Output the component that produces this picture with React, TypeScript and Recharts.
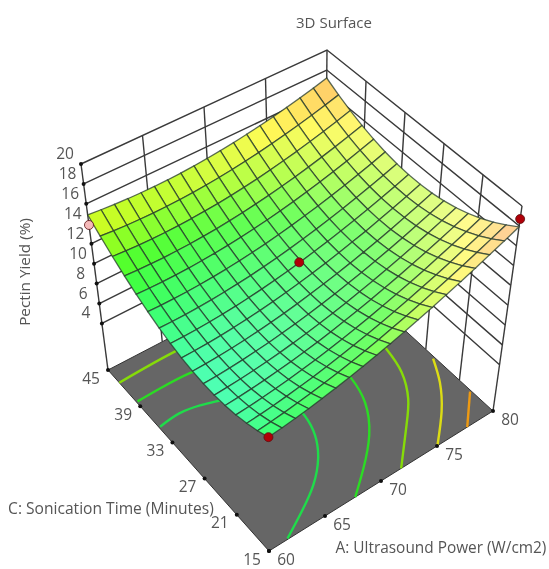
import { ScatterChart, Scatter, XAxis, YAxis } from "recharts";

const WIDTH = 549;
const HEIGHT = 569;

const aTicks = [60, 65, 70, 75, 80];
const cTicks = [15, 21, 27, 33, 39, 45];
const zTicks = [4, 6, 8, 10, 12, 14, 16, 18, 20];

const gridA = [60, 61.11, 62.22, 63.33, 64.44, 65.56, 66.67, 67.78, 68.89, 70, 71.11, 72.22, 73.33, 74.44, 75.56, 76.67, 77.78, 78.89, 80];
const gridC = [15, 16.875, 18.75, 20.625, 22.5, 24.375, 26.25, 28.125, 30, 31.875, 33.75, 35.625, 37.5, 39.375, 41.25, 43.125, 45];

// pectin yield, one row per gridA value, one column per gridC value
const surfaceZ = [
  [10.7, 10.21, 9.83, 9.54, 9.35, 9.26, 9.28, 9.39, 9.6, 9.91, 10.33, 10.84, 11.45, 12.16, 12.98, 13.89, 14.9],
  [10.85, 10.34, 9.94, 9.63, 9.43, 9.33, 9.32, 9.42, 9.61, 9.91, 10.3, 10.8, 11.39, 12.09, 12.89, 13.78, 14.78],
  [11.03, 10.5, 10.08, 9.76, 9.54, 9.42, 9.4, 9.48, 9.65, 9.93, 10.31, 10.79, 11.37, 12.05, 12.83, 13.7, 14.68],
  [11.23, 10.7, 10.26, 9.92, 9.68, 9.54, 9.5, 9.56, 9.73, 9.99, 10.35, 10.81, 11.37, 12.03, 12.79, 13.66, 14.62],
  [11.47, 10.92, 10.46, 10.1, 9.85, 9.69, 9.64, 9.68, 9.83, 10.07, 10.42, 10.86, 11.4, 12.05, 12.79, 13.64, 14.58],
  [11.74, 11.16, 10.69, 10.32, 10.05, 9.87, 9.8, 9.83, 9.96, 10.18, 10.51, 10.94, 11.47, 12.09, 12.82, 13.65, 14.58],
  [12.03, 11.44, 10.95, 10.56, 10.28, 10.09, 10.0, 10.01, 10.12, 10.33, 10.64, 11.05, 11.56, 12.17, 12.88, 13.69, 14.6],
  [12.36, 11.75, 11.25, 10.84, 10.53, 10.33, 10.22, 10.21, 10.31, 10.5, 10.79, 11.19, 11.68, 12.27, 12.97, 13.76, 14.65],
  [12.72, 12.09, 11.57, 11.14, 10.82, 10.6, 10.47, 10.45, 10.53, 10.7, 10.98, 11.36, 11.83, 12.41, 13.08, 13.86, 14.74],
  [13.1, 12.46, 11.92, 11.48, 11.14, 10.9, 10.76, 10.72, 10.78, 10.93, 11.19, 11.55, 12.01, 12.57, 13.23, 13.99, 14.85],
  [13.52, 12.86, 12.3, 11.84, 11.48, 11.23, 11.07, 11.01, 11.05, 11.2, 11.44, 11.78, 12.22, 12.77, 13.41, 14.15, 14.99],
  [13.96, 13.29, 12.71, 12.24, 11.86, 11.59, 11.41, 11.34, 11.36, 11.49, 11.71, 12.04, 12.46, 12.99, 13.61, 14.34, 15.17],
  [14.43, 13.74, 13.15, 12.66, 12.27, 11.98, 11.78, 11.69, 11.7, 11.81, 12.02, 12.33, 12.73, 13.24, 13.85, 14.56, 15.37],
  [14.94, 14.23, 13.62, 13.11, 12.7, 12.39, 12.19, 12.08, 12.07, 12.16, 12.35, 12.64, 13.03, 13.52, 14.12, 14.81, 15.6],
  [15.47, 14.75, 14.12, 13.59, 13.17, 12.84, 12.62, 12.49, 12.46, 12.54, 12.71, 12.99, 13.36, 13.84, 14.41, 15.09, 15.86],
  [16.03, 15.29, 14.65, 14.11, 13.66, 13.32, 13.08, 12.93, 12.89, 12.95, 13.11, 13.36, 13.72, 14.18, 14.74, 15.39, 16.15],
  [16.63, 15.87, 15.21, 14.65, 14.19, 13.83, 13.57, 13.41, 13.35, 13.39, 13.53, 13.77, 14.11, 14.55, 15.09, 15.73, 16.47],
  [17.25, 16.47, 15.79, 15.22, 14.74, 14.36, 14.09, 13.91, 13.83, 13.86, 13.98, 14.2, 14.53, 14.95, 15.47, 16.1, 16.82],
  [17.9, 17.11, 16.41, 15.82, 15.33, 14.93, 14.64, 14.44, 14.35, 14.36, 14.46, 14.67, 14.98, 15.38, 15.89, 16.49, 17.2],
];

// floor contours as [A, C] pairs
const contourLines = [
  [[61.7, 15.1], [63.9, 17.05], [66, 19.2], [67.7, 21.8], [68.8, 24.6], [69.3, 27.5], [69.3, 30]],
  [[60.1, 35.5], [62, 35.8], [63.7, 35.4], [65, 34.8], [67, 33.8]],
  [[67.7, 15], [69.7, 17.6], [71.9, 21], [73.5, 25], [74.1, 28.6], [74.2, 31]],
  [[60.1, 39.7], [62.2, 39.8], [65, 39.7], [67, 39]],
  [[71.8, 15], [74.5, 19.5], [76.1, 22.4], [77.3, 26], [77.8, 29.5], [78, 32]],
  [[60, 42.9], [62.6, 43.05], [65.2, 43.1], [67, 43]],
  [[75.1, 15.1], [77.2, 18.6], [78.8, 22.1], [79.85, 25.4]],
  [[77.7, 15], [79.9, 18.9]],
];
const contourColors = ["#1fdc4a", "#1fdc4a", "#2bdc24", "#2bdc24", "#86dc08", "#86dc08", "#dcdc14", "#ee9a12"];

const designA = [60, 70, 80, 60];
const designC = [45, 30, 15, 15];
const designZ = [13.88, 12.85, 18.69, 10.7];
const designColors = ["#f5b9b9", "#b00008", "#b00008", "#b00008"];

const zFloor = -0.67;
type Pt = [number, number];
const floorCorners: Pt[] = [[269, 551], [493, 411], [325, 257], [108, 370]];
const topCorners: Pt[] = [[268, 344], [522, 206], [327, 50], [81, 164]];

function bilinear(c: Pt[], u: number, v: number): Pt {
  const x = c[0][0] * (1 - u) * (1 - v) + c[1][0] * u * (1 - v) + c[2][0] * u * v + c[3][0] * (1 - u) * v;
  const y = c[0][1] * (1 - u) * (1 - v) + c[1][1] * u * (1 - v) + c[2][1] * u * v + c[3][1] * (1 - u) * v;
  return [x, y];
}

function project(a: number, c: number, z: number) {
  const u = (a - 60) / 20;
  const v = (c - 15) / 30;
  const t = (z - zFloor) / (20 - zFloor);
  const b = bilinear(floorCorners, u, v);
  const d = bilinear(topCorners, u, v);
  return { x: b[0] + (d[0] - b[0]) * t, y: b[1] + (d[1] - b[1]) * t };
}

const colorStops: [number, number[]][] = [
  [9.3, [60, 255, 170]],
  [10.8, [40, 255, 90]],
  [12.3, [50, 255, 28]],
  [13.7, [156, 255, 9]],
  [15.2, [255, 250, 23]],
  [16.6, [255, 190, 30]],
  [17.9, [255, 130, 40]],
];

function surfaceColor(z: number, u: number, v: number) {
  let rgb = colorStops[colorStops.length - 1][1];
  for (let i = 0; i < colorStops.length - 1; i++) {
    const [z0, c0] = colorStops[i];
    const [z1, c1] = colorStops[i + 1];
    if (z <= z1) {
      const t = Math.max(0, (z - z0) / (z1 - z0));
      rgb = c0.map((n, k) => n + (c1[k] - n) * t);
      break;
    }
  }
  // the reference's light washes the right hand side out
  const w = 0.08 + 0.45 * u * (1 - 0.45 * v * v);
  const out = rgb.map((n) => Math.round(n + (255 - n) * w));
  return `rgb(${out[0]},${out[1]},${out[2]})`;
}

// one point per surface cell, back corner first so that nearer cells paint over
const cells: any[] = [];
for (let i = gridA.length - 2; i >= 0; i--) {
  for (let j = gridC.length - 2; j >= 0; j--) {
    const verts = [
      project(gridA[i], gridC[j], surfaceZ[i][j]),
      project(gridA[i + 1], gridC[j], surfaceZ[i + 1][j]),
      project(gridA[i + 1], gridC[j + 1], surfaceZ[i + 1][j + 1]),
      project(gridA[i], gridC[j + 1], surfaceZ[i][j + 1]),
    ];
    const mean = (surfaceZ[i][j] + surfaceZ[i + 1][j] + surfaceZ[i + 1][j + 1] + surfaceZ[i][j + 1]) / 4;
    cells.push({
      ...verts[0],
      verts,
      fill: surfaceColor(mean, (i + 0.5) / (gridA.length - 1), (j + 0.5) / (gridC.length - 1)),
    });
  }
}

const floorPoint = {
  ...project(60, 15, zFloor),
  verts: [project(60, 15, zFloor), project(80, 15, zFloor), project(80, 45, zFloor), project(60, 45, zFloor)],
  fill: "#666666",
};

// polygon whose corners are given in chart units, placed through the scatter's own cx/cy
const Polygon = (props: any) => {
  const { cx, cy, payload } = props;
  const pts = payload.verts.map((v: any) => `${cx + v.x - payload.x},${cy + v.y - payload.y}`).join(" ");
  const isFloor = payload.fill === "#666666";
  return (
    <polygon
      points={pts}
      fill={payload.fill}
      stroke={isFloor ? "#333333" : "#263a2c"}
      strokeWidth={isFloor ? 1 : 1.3}
      strokeOpacity={isFloor ? 1 : 0.75}
    />
  );
};

const NoDot = () => <g />;

const TickDot = (props: any) => <circle cx={props.cx} cy={props.cy} r={2} fill="#111111" />;

const TickText = (props: any) => (
  <text
    x={props.cx + props.payload.dx}
    y={props.cy + props.payload.dy}
    textAnchor="middle"
    dominantBaseline="central"
    fontFamily="'Open Sans', sans-serif"
    fontSize={15.5}
    fill="#555555"
  >
    {props.payload.label}
  </text>
);

const DesignDot = (props: any) => (
  <circle cx={props.cx} cy={props.cy} r={4.5} fill={props.payload.fill} stroke="#5a1010" strokeWidth={0.8} />
);

const wallLines: any[][] = [];
zTicks.forEach((z) => {
  wallLines.push([project(60, 45, z), project(80, 45, z), project(80, 15, z)]);
});
aTicks.slice(1, -1).forEach((a) => wallLines.push([project(a, 45, zFloor), project(a, 45, 20)]));
cTicks.slice(1, -1).forEach((c) => wallLines.push([project(80, c, zFloor), project(80, c, 20)]));
wallLines.push([project(60, 45, zFloor), project(60, 45, 20)]);
wallLines.push([project(80, 45, zFloor), project(80, 45, 20)]);
wallLines.push([project(80, 15, zFloor), project(80, 15, 20)]);

const tickDots = [
  ...zTicks.map((z) => project(60, 45, z)),
  ...cTicks.map((c) => project(60, c, zFloor)),
  ...aTicks.map((a) => project(a, 15, zFloor)),
];

const tickLabels = [
  ...zTicks.map((z) => ({ ...project(60, 45, z), label: String(z), dx: -16, dy: -11 })),
  ...cTicks.map((c) => ({ ...project(60, c, zFloor), label: String(c), dx: -17, dy: 7.5 })),
  ...aTicks.map((a) => ({ ...project(a, 15, zFloor), label: String(a), dx: 17, dy: 7.5 })),
];

const designPoints = designA.map((a, i) => ({
  ...project(a, designC[i], designZ[i]),
  fill: designColors[i],
}));

const labelStyle = { fontFamily: "'Open Sans', sans-serif", fill: "#555555" };

export default function App() {
  return (
    <div style={{ position: "absolute", left: 0, top: 0, width: WIDTH, height: HEIGHT, overflow: "hidden", filter: "blur(0.6px)" }}>
      <ScatterChart width={WIDTH} height={HEIGHT} margin={{ top: 0, right: 0, bottom: 0, left: 0 }}>
        <XAxis type="number" dataKey="x" domain={[0, WIDTH]} hide />
        <YAxis type="number" dataKey="y" domain={[0, HEIGHT]} reversed hide />

        {wallLines.map((pts, i) => (
          <Scatter key={`wall-${i}`} data={pts} line={{ stroke: "#3a3a3a", strokeWidth: 1.4 }} shape={NoDot} isAnimationActive={false} />
        ))}
        <Scatter data={[floorPoint]} shape={Polygon} isAnimationActive={false} />
        {contourLines.map((line, i) => (
          <Scatter
            key={`contour-${i}`}
            data={line.map(([a, c]) => project(a, c, zFloor))}
            line={{ stroke: contourColors[i], strokeWidth: 2.4 }}
            lineJointType="natural"
            shape={NoDot}
            isAnimationActive={false}
          />
        ))}
        <Scatter data={tickDots} shape={TickDot} isAnimationActive={false} />
        <Scatter data={cells} shape={Polygon} isAnimationActive={false} />
        <Scatter data={designPoints} shape={DesignDot} isAnimationActive={false} />
        <Scatter data={tickLabels} shape={TickText} isAnimationActive={false} />

        <text x={334} y={22} textAnchor="middle" dominantBaseline="central" fontSize={15} {...labelStyle}>
          3D Surface
        </text>
        <text x={24} y={272} textAnchor="middle" dominantBaseline="central" fontSize={15.3} transform="rotate(-90 24 272)" {...labelStyle}>
          Pectin Yield (%)
        </text>
        <text x={111} y={508} textAnchor="middle" dominantBaseline="central" fontSize={15.6} {...labelStyle}>
          C: Sonication Time (Minutes)
        </text>
        <text x={441} y={547} textAnchor="middle" dominantBaseline="central" fontSize={15.4} {...labelStyle}>
          A: Ultrasound Power (W/cm2)
        </text>
      </ScatterChart>
    </div>
  );
}
